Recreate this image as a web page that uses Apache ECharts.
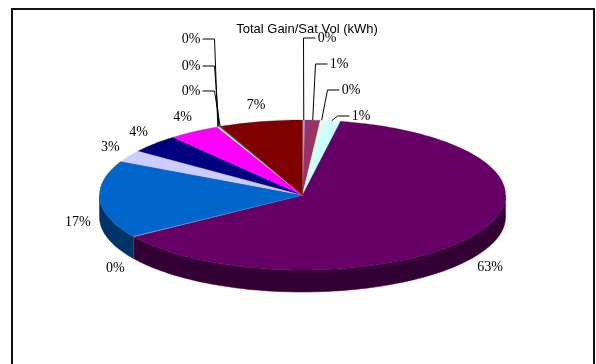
<!DOCTYPE html>
<html><head><meta charset="utf-8">
<script src="https://cdn.jsdelivr.net/npm/echarts@6/dist/echarts.min.js"></script>
<style>html,body{margin:0;padding:0;background:#fff}#c{width:596px;height:364px}</style>
</head><body><div id="c"></div>
<script>
// ---- data (percent shares) ----
const categories = ['A','B','C','D','E','F','G','H','I','J','K','L','M','N'];
const values = [0.2, 1.2, 0.2, 1.4, 62.6, 0.1, 16.7, 2.6, 4.0, 4.1, 0.1, 0.1, 0.1, 6.6];
const colors = ['#9999FF','#993366','#FFFFCC','#CCFFFF','#660066','#FF8080','#0066CC','#CCCCFF','#000080','#FF00FF','#FFFF00','#00FFFF','#800080','#800000'];
const chartTitle = 'Total Gain/Sat Vol (kWh)';

// ---- layout ----
const PIE = {cx: 302.5, cy: 195, rx: 203, ry: 75, depth: 22, lrx: 225, lry: 92};
const leaderLabels = {0:[327,38], 1:[339,64], 2:[351,90], 3:[361,116], 10:[191,39], 11:[191,66], 12:[191,91]};
const LABEL_FONT = '14px "Liberation Serif", "Times New Roman", serif';

const total = values.reduce((a, b) => a + b, 0);
const starts = [];
(function(){ let acc = 0; values.forEach(v => { starts.push(acc); acc += v; }); })();

function pt(theta, dy) {
  const r = theta * Math.PI / 180;
  return [PIE.cx + PIE.rx * Math.sin(r), PIE.cy - PIE.ry * Math.cos(r) + (dy || 0)];
}
function arc(a, b, dy) {
  const n = Math.max(2, Math.ceil((b - a) / 1.5));
  const pts = [];
  for (let i = 0; i <= n; i++) pts.push(pt(a + (b - a) * i / n, dy));
  return pts;
}
function darken(hex, f) {
  const n = parseInt(hex.slice(1), 16);
  const r = Math.round(((n >> 16) & 255) * f), g = Math.round(((n >> 8) & 255) * f), b = Math.round((n & 255) * f);
  return 'rgb(' + r + ',' + g + ',' + b + ')';
}

function renderItem(params, api) {
  const i = params.dataIndex;
  const v = api.value(0);
  const a0 = starts[i] / total * 360;
  const a1 = (starts[i] + v) / total * 360;
  const mid = (a0 + a1) / 2;
  const color = colors[i];
  const children = [];
  // side wall (front half only)
  const s = Math.max(a0, 90), e = Math.min(a1, 270);
  if (e > s) {
    children.push({
      type: 'polygon', z2: 1,
      shape: {points: arc(s, e, 0).concat(arc(s, e, PIE.depth).reverse())},
      style: {fill: darken(color, 0.5), stroke: darken(color, 0.5), lineWidth: 0.5}
    });
  }
  // top face
  children.push({
    type: 'polygon', z2: 2,
    shape: {points: [[PIE.cx, PIE.cy]].concat(arc(a0, a1, 0))},
    style: {fill: color, stroke: color, lineWidth: 0.3}
  });
  // label
  const txt = Math.round(v / total * 100) + '%';
  if (leaderLabels[i]) {
    const [lx, ly] = leaderLabels[i];
    const anchor = pt(mid, 0);
    const hw = 10.5;
    let start, elbow;
    if (lx > anchor[0]) { start = [lx - hw - 1, ly]; elbow = [start[0] - 12, ly]; }
    else { start = [lx + hw + 1, ly]; elbow = [start[0] + 12, ly]; }
    children.push({
      type: 'polyline', z2: 3,
      shape: {points: [start, elbow, anchor]},
      style: {stroke: '#000', lineWidth: 1, fill: null}
    });
    children.push({
      type: 'text', z2: 4, x: lx, y: ly,
      style: {text: txt, font: LABEL_FONT, fill: '#000', align: 'center', verticalAlign: 'middle'}
    });
  } else {
    const r = mid * Math.PI / 180;
    const c = Math.cos(r);
    const lx = PIE.cx + PIE.lrx * Math.sin(r);
    const ly = PIE.cy - PIE.lry * c + (c < 0 ? PIE.depth : 0);
    children.push({
      type: 'text', z2: 4, x: lx, y: ly,
      style: {text: txt, font: LABEL_FONT, fill: '#000', align: 'center', verticalAlign: 'middle'}
    });
  }
  return {type: 'group', children: children};
}

const chart = echarts.init(document.getElementById('c'), null, {renderer: 'canvas'});
chart.setOption({
  animation: false,
  backgroundColor: '#fff',
  title: {
    text: chartTitle, left: 302, top: 18, textAlign: 'center',
    textStyle: {fontFamily: '"Liberation Sans", Arial, sans-serif', fontSize: 13, fontWeight: 'normal', color: '#000'}
  },
  graphic: [{
    type: 'rect', silent: true,
    shape: {x: 12, y: 9, width: 582, height: 400},
    style: {fill: null, stroke: '#111', lineWidth: 2}
  }],
  series: [{
    type: 'custom',
    coordinateSystem: 'none',
    renderItem: renderItem,
    data: values.map((v, i) => ({name: categories[i], value: v}))
  }]
});
</script>
</body></html>
